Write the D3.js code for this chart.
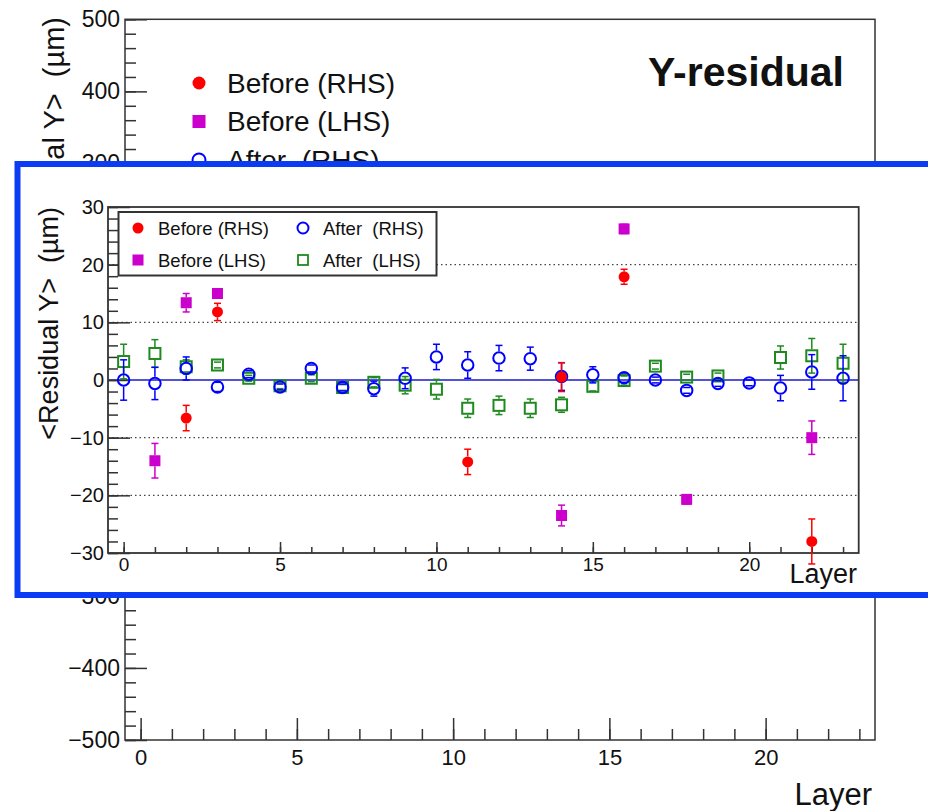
<!DOCTYPE html>
<html><head><meta charset="utf-8">
<script src="https://cdn.jsdelivr.net/npm/d3@7"></script>
<style>
body{margin:0;background:#fff;}
text{font-family:"Liberation Sans",Arial,Helvetica,sans-serif;fill:#111;}
</style></head>
<body>
<svg id="c" width="928" height="811"></svg>
<script>
// ---------- data ----------
const layers = d3.range(0, 24);
// Before (RHS)
const beforeRHSLayer = [2, 3, 11, 14, 16, 22];
const beforeRHSVal   = [-6.6, 11.8, -14.2, 0.5, 17.9, -28.0];
const beforeRHSErr   = [2.2, 1.5, 2.2, 2.5, 1.3, 3.9];
// Before (LHS)
const beforeLHSLayer = [1, 2, 3, 14, 16, 18, 22];
const beforeLHSVal   = [-14.0, 13.4, 15.0, -23.5, 26.2, -20.7, -10.0];
const beforeLHSErr   = [3.0, 1.6, 0.8, 1.8, 0.8, 0.8, 2.9];
// After (RHS)
const afterRHSVal = [0.0,-0.6,2.0,-1.2,1.0,-1.2,2.0,-1.3,-1.5,0.3,4.0,2.6,3.8,3.7,0.6,0.9,0.4,0.0,-1.8,-0.6,-0.5,-1.4,1.4,0.3];
const afterRHSErr = [3.5,2.8,2.0,0.8,0.6,0.5,0.6,0.6,1.3,1.8,2.2,2.3,2.2,2.0,2.4,1.4,0.8,0.5,0.5,0.5,0.5,2.2,3.0,3.9];
// After (LHS)  (layer 20 not visible)
const afterLHSVal = [3.2,4.6,2.3,2.6,0.3,-1.0,0.3,-1.3,-0.4,-0.9,-1.6,-4.9,-4.4,-4.9,-4.3,-1.1,-0.1,2.4,0.5,0.7,null,3.9,4.2,2.9];
const afterLHSErr = [3.0,2.4,1.2,0.5,0.5,0.5,0.6,0.5,0.8,1.5,1.7,1.6,1.6,1.6,1.3,0.8,0.8,0.5,0.5,0.5,null,2.0,3.0,3.3];

const legendLabels = ["Before (RHS)", "Before (LHS)", "After  (RHS)", "After  (LHS)"];
// outer axis ticks that stay visible outside the inset
const outerYTicks = [500, 400, 300, -300, -400, -500];
const outerYMinor = d3.range(-500, 501, 20).filter(v => v >= 300 || v <= -300);
const insetYTicks = d3.range(-30, 31, 10);
const insetYMinor = d3.range(-30, 31, 2);
const xMajor = [0, 5, 10, 15, 20];
const xMinor = d3.range(0, 24);
const gridVals = [-20, -10, 10, 20];

const C_RED = "#ff0000", C_MAG = "#cc00cc", C_BLUE = "#0000ff", C_GREEN = "#1f8a1f";
const fmt = d => (d < 0 ? "\u2212" + Math.abs(d) : "" + d);

const svg = d3.select("#c");

// ---------- outer (background) chart ----------
const xO = d3.scaleLinear().domain([-0.5, 23.5]).range([125, 875]);
const yO = d3.scaleLinear().domain([-500, 500]).range([740, 19.3]);
const gO = svg.append("g");

function styleAxis(g, fs) {
  g.select(".domain").remove();
  g.selectAll("line").attr("stroke", "#333").attr("stroke-width", 1.5);
  g.selectAll("text").attr("font-size", fs).attr("fill", "#111")
    .attr("font-family", '"Liberation Sans",Arial,sans-serif');
}
gO.append("g").attr("transform", `translate(125,0)`)
  .call(d3.axisLeft(yO).tickValues(outerYMinor).tickSize(-11).tickFormat(""))
  .call(g => styleAxis(g, 22));
gO.append("g").attr("transform", `translate(125,0)`)
  .call(d3.axisLeft(yO).tickValues(outerYTicks).tickSize(-22).tickPadding(5).tickFormat(fmt))
  .call(g => styleAxis(g, 23));
gO.append("g").attr("transform", `translate(0,740)`)
  .call(d3.axisBottom(xO).tickValues(xMinor).tickSize(-11).tickFormat(""))
  .call(g => styleAxis(g, 22));
gO.append("g").attr("transform", `translate(0,740)`)
  .call(d3.axisBottom(xO).tickValues(xMajor).tickSize(-22).tickPadding(9).tickFormat(fmt))
  .call(g => styleAxis(g, 22));
// frame
gO.append("rect").attr("x", xO.range()[0]).attr("y", yO.range()[1])
  .attr("width", xO.range()[1] - xO.range()[0]).attr("height", yO.range()[0] - yO.range()[1])
  .attr("fill", "none").attr("stroke", "#333").attr("stroke-width", 1.5);
// titles
gO.append("text").attr("transform", "translate(64,17) rotate(-90)").attr("text-anchor", "end")
  .attr("font-size", 29).style("white-space", "pre").text("<Residual Y>  (\u00b5m)");
gO.append("text").attr("x", 872).attr("y", 805).attr("text-anchor", "end")
  .attr("font-size", 31).text("Layer");
gO.append("text").attr("x", 844).attr("y", 86).attr("text-anchor", "end")
  .attr("font-size", 41).attr("font-weight", "bold").text("Y-residual");
// outer legend (4th row lies under the inset)
const olg = gO.append("g");
legendLabels.slice(0, 3).forEach((lab, i) => {
  const cy = 83 + i * 38.5;
  if (i === 0) olg.append("circle").attr("cx", 199).attr("cy", cy).attr("r", 6.5).attr("fill", C_RED);
  if (i === 1) olg.append("rect").attr("x", 192.5).attr("y", cy - 6.5).attr("width", 13).attr("height", 13).attr("fill", C_MAG);
  if (i === 2) olg.append("circle").attr("cx", 199).attr("cy", cy).attr("r", 6.5).attr("fill", "none").attr("stroke", C_BLUE).attr("stroke-width", 2);
  olg.append("text").attr("x", 227).attr("y", cy + 9.5).attr("font-size", 28)
    .style("white-space", "pre").text(lab);
});

// ---------- inset ----------
const gI = svg.append("g");
gI.append("rect").attr("x", 17.5).attr("y", 164).attr("width", 930).attr("height", 431)
  .attr("fill", "#fff").attr("stroke", "#0a3cf5").attr("stroke-width", 6);

const xI = d3.scaleLinear().domain([-0.5, 23.5]).range([108, 858.7]);
const yI = d3.scaleLinear().domain([-30, 30]).range([553, 207]);

// grid (dotted)
gI.append("g").selectAll("line").data(gridVals).join("line")
  .attr("x1", xI.range()[0]).attr("x2", xI.range()[1])
  .attr("y1", d => yI(d)).attr("y2", d => yI(d))
  .attr("stroke", "#444").attr("stroke-width", 1.3).attr("stroke-dasharray", "1.5,3");
// zero line
gI.append("line").attr("x1", xI.range()[0]).attr("x2", xI.range()[1])
  .attr("y1", yI(0)).attr("y2", yI(0)).attr("stroke", "#1a1acc").attr("stroke-width", 1.5);

gI.append("g").attr("transform", `translate(108,0)`)
  .call(d3.axisLeft(yI).tickValues(insetYMinor).tickSize(-10).tickFormat(""))
  .call(g => styleAxis(g, 20));
gI.append("g").attr("transform", `translate(108,0)`)
  .call(d3.axisLeft(yI).tickValues(insetYTicks).tickSize(-22).tickPadding(4).tickFormat(fmt))
  .call(g => styleAxis(g, 20));
gI.append("g").attr("transform", `translate(0,553)`)
  .call(d3.axisBottom(xI).tickValues(xMinor).tickSize(-6).tickFormat(""))
  .call(g => styleAxis(g, 19));
gI.append("g").attr("transform", `translate(0,553)`)
  .call(d3.axisBottom(xI).tickValues(xMajor).tickSize(-11).tickPadding(4.5).tickFormat(fmt))
  .call(g => styleAxis(g, 19));
gI.append("rect").attr("x", xI.range()[0]).attr("y", yI.range()[1])
  .attr("width", xI.range()[1] - xI.range()[0]).attr("height", yI.range()[0] - yI.range()[1])
  .attr("fill", "none").attr("stroke", "#333").attr("stroke-width", 1.8);

gI.append("text").attr("transform", "translate(57.5,207) rotate(-90)").attr("text-anchor", "end")
  .attr("font-size", 27).style("white-space", "pre").text("<Residual Y>  (\u00b5m)");
gI.append("text").attr("x", 857).attr("y", 583).attr("text-anchor", "end")
  .attr("font-size", 27).text("Layer");

// series drawing
function drawSeries(pts, color, shape, filled, size) {
  const g = gI.append("g");
  const h = size / 2;
  pts.forEach(p => {
    const cx = xI(p.x), cy = yI(p.v), yt = yI(p.v + p.e), yb = yI(p.v - p.e);
    const eg = g.append("g").attr("stroke", color).attr("stroke-width", 1.5);
    if (cy - h > yt) {
      eg.append("line").attr("x1", cx).attr("x2", cx).attr("y1", yt).attr("y2", cy - h);
    }
    if (yb > cy + h) {
      eg.append("line").attr("x1", cx).attr("x2", cx).attr("y1", cy + h).attr("y2", yb);
    }
    eg.append("line").attr("x1", cx - 3.5).attr("x2", cx + 3.5).attr("y1", yt).attr("y2", yt);
    eg.append("line").attr("x1", cx - 3.5).attr("x2", cx + 3.5).attr("y1", yb).attr("y2", yb);
    let m;
    if (shape === "circle") m = g.append("circle").attr("cx", cx).attr("cy", cy).attr("r", filled ? h : h - 1);
    else m = g.append("rect").attr("x", cx - (filled ? h : h - 1)).attr("y", cy - (filled ? h : h - 1))
      .attr("width", filled ? size : size - 2).attr("height", filled ? size : size - 2);
    if (filled) m.attr("fill", color);
    else m.attr("fill", "none").attr("stroke", color).attr("stroke-width", 2);
  });
}
const zipPts = (xs, vs, es) => xs.map((x, i) => ({ x, v: vs[i], e: es[i] })).filter(d => d.v !== null);

drawSeries(zipPts(layers, afterLHSVal, afterLHSErr), C_GREEN, "square", false, 13);
drawSeries(zipPts(layers, afterRHSVal, afterRHSErr), C_BLUE, "circle", false, 13.5);
drawSeries(zipPts(beforeLHSLayer, beforeLHSVal, beforeLHSErr), C_MAG, "square", true, 11);
drawSeries(zipPts(beforeRHSLayer, beforeRHSVal, beforeRHSErr), C_RED, "circle", true, 11);

// inset legend
const lg = gI.append("g");
lg.append("rect").attr("x", 118.5).attr("y", 212).attr("width", 318).attr("height", 63.5)
  .attr("fill", "#fff").attr("stroke", "#333").attr("stroke-width", 2);
const lpos = [[138, 228], [138, 260], [303, 228], [303, 260]];
legendLabels.forEach((lab, i) => {
  const [mx, my] = lpos[i];
  if (i === 0) lg.append("circle").attr("cx", mx).attr("cy", my).attr("r", 5.5).attr("fill", C_RED);
  if (i === 1) lg.append("rect").attr("x", mx - 5.5).attr("y", my - 5.5).attr("width", 11).attr("height", 11).attr("fill", C_MAG);
  if (i === 2) lg.append("circle").attr("cx", mx).attr("cy", my).attr("r", 5.5).attr("fill", "none").attr("stroke", C_BLUE).attr("stroke-width", 2);
  if (i === 3) lg.append("rect").attr("x", mx - 5).attr("y", my - 5).attr("width", 10).attr("height", 10).attr("fill", "none").attr("stroke", C_GREEN).attr("stroke-width", 1.8);
  lg.append("text").attr("x", mx + 20).attr("y", my + 6.5).attr("font-size", 18.5)
    .style("white-space", "pre").text(lab);
});
</script>
</body></html>
